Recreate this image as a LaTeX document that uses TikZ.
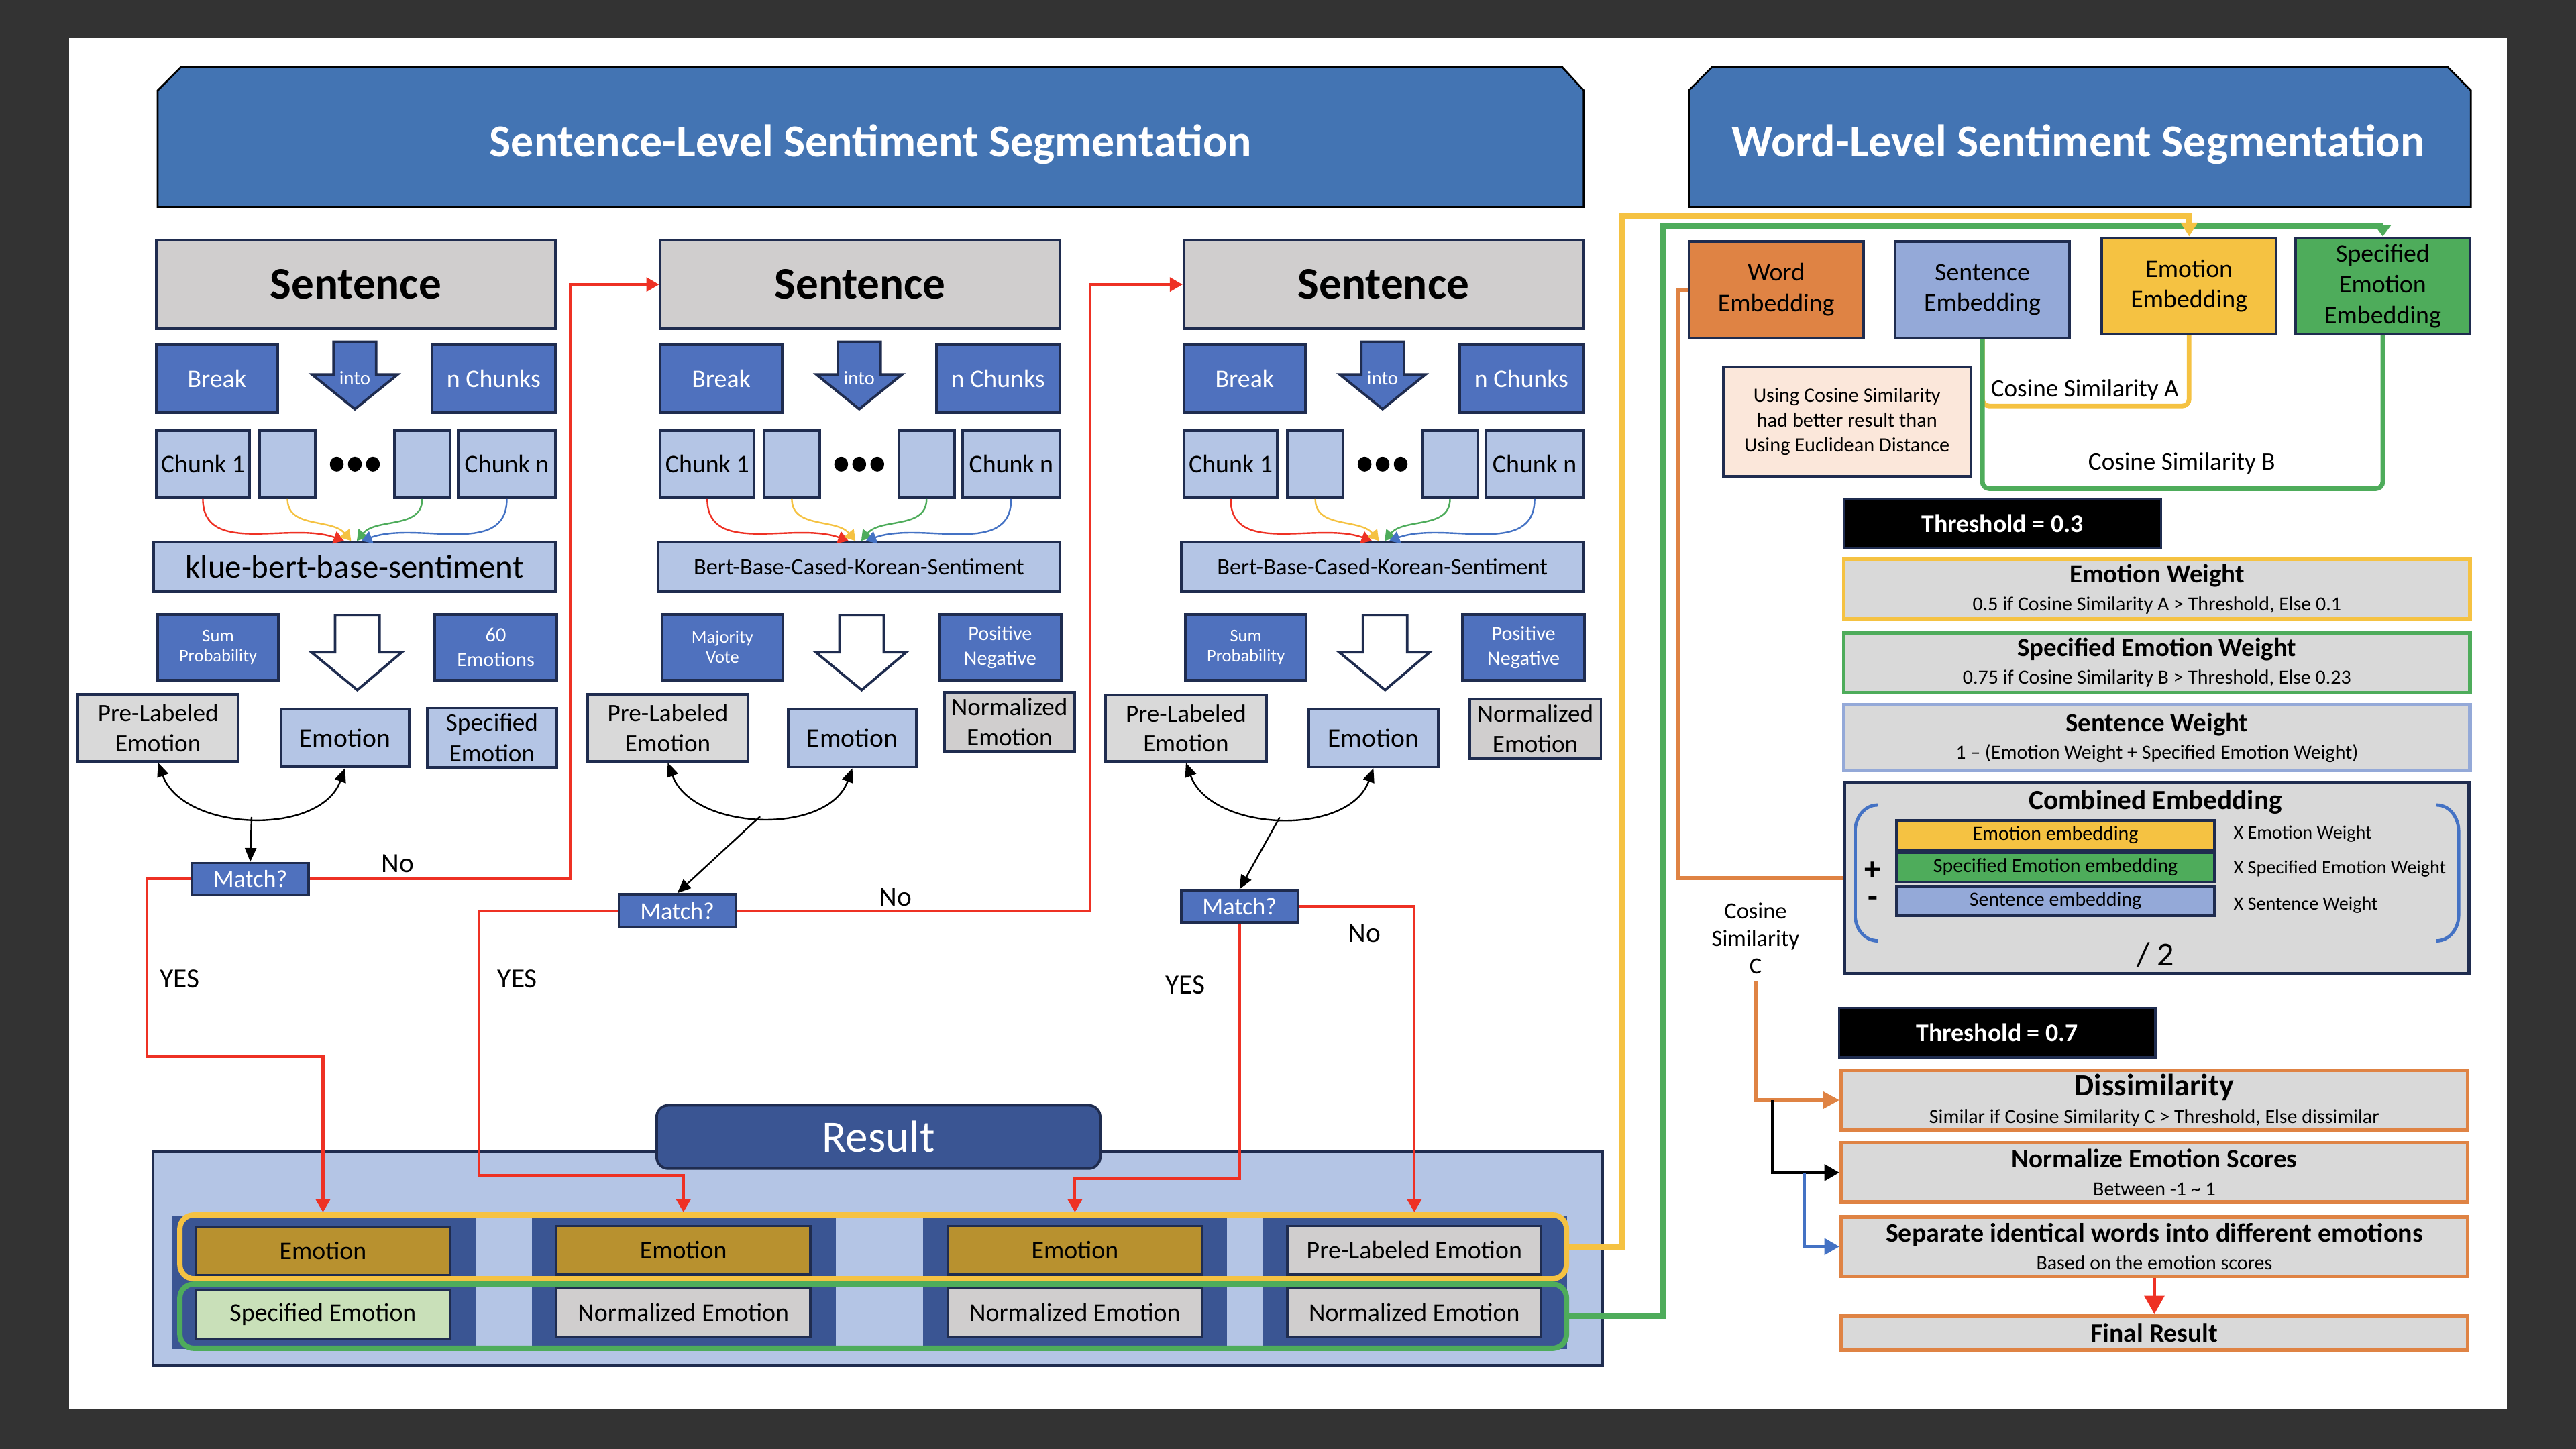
\documentclass[tikz,border=0pt]{standalone}
\usepackage{fontspec}
\setmainfont{Carlito}
\usetikzlibrary{arrows.meta}

%Cores
\definecolor{fundo}{HTML}{333333}
\definecolor{azulbanner}{HTML}{4374B3}
\definecolor{azulmedio}{HTML}{4F71BE}
\definecolor{azulclaro}{HTML}{B4C5E5}
\definecolor{cinza}{HTML}{D0CECE}
\definecolor{cinzaclaro}{HTML}{D9D9D9}
\definecolor{marinho}{HTML}{1F2C4F}
\definecolor{azulescuro}{HTML}{3A5593}
\definecolor{ouro}{HTML}{B8912F}
\definecolor{verdeclaro}{HTML}{C9E0B9}
\definecolor{laranja}{HTML}{DF8344}
\definecolor{lavanda}{HTML}{94A9D8}
\definecolor{amarelo}{HTML}{F5C242}
\definecolor{verde}{HTML}{4EAC5B}
\definecolor{pessego}{HTML}{FBE7DA}
\definecolor{vermelho}{HTML}{EE3124}
\definecolor{azullinha}{HTML}{4472C4}

\newcommand{\tamfonte}[2]{\fontsize{#1}{#2}\selectfont}

\tikzset{
  tam/.style 2 args={minimum width=#1*0.025cm, minimum height=#2*0.025cm},
  caixa/.style={draw=marinho, line width=1.1pt, inner sep=0pt, align=center},
  frase/.style={caixa, fill=cinza, font=\tamfonte{19.5}{22}\bfseries},
  azul/.style={caixa, fill=azulmedio, text=white, font=\tamfonte{11}{13}},
  clara/.style={caixa, fill=azulclaro, font=\tamfonte{11}{13}},
  cinzab/.style={caixa, fill=cinzaclaro, font=\tamfonte{10.8}{13}},
  pergunta/.style={caixa, fill=azulmedio, text=white, font=\tamfonte{10.5}{12}},
  rotulo/.style={font=\tamfonte{12}{14}},
  resbox/.style={caixa, font=\tamfonte{11}{13}, tam={154.5}{29.5}},
  peso/.style={caixa, fill=cinzaclaro, line width=1.5pt, font=\tamfonte{8.7}{12}, tam={381.1}{36.5}},
  limiar/.style={caixa, fill=black, text=white, font=\tamfonte{11}{13}\bfseries, tam={193}{30}},
  etapa/.style={caixa, draw=laranja, fill=cinzaclaro, line width=1.5pt, font=\tamfonte{8.7}{12}, tam={381.3}{36}},
  emb/.style={caixa, font=\tamfonte{11}{13.2}, tam={106.4}{58.7}},
  vermelha/.style={vermelho, line width=1.2pt, -{Triangle[length=5.5pt,width=6pt]}},
  preta/.style={black, line width=0.7pt},
  ponta/.style={-{Triangle[length=4.5pt,width=5.5pt]}, line width=0.7pt}
}

\begin{document}
\begin{tikzpicture}[x=0.025cm, y=-0.025cm] %Unidade = 1 pixel da imagem
	%Fundo
	\fill[fundo] (0,0) rectangle (1568,882);
	\fill[white] (42,23) rectangle (1526,858);
	%Faixas de titulo
	\filldraw[fill=azulbanner, draw=black, line width=0.8pt] (96,126) -- (96,55) -- (110,41) -- (951,41) -- (964,55) -- (964,126) -- cycle;
	\node[text=white, font=\tamfonte{19.7}{22}\bfseries] (tituloS) at (530,88) {Sentence-Level Sentiment Segmentation};
	\filldraw[fill=azulbanner, draw=black, line width=0.8pt] (1028,126) -- (1028,55) -- (1042,41) -- (1490,41) -- (1504,55) -- (1504,126) -- cycle;
	\node[text=white, font=\tamfonte{19.7}{22}\bfseries] (tituloW) at (1265,88) {Word-Level Sentiment Segmentation};

	%Tres colunas de frases
	\foreach \i/\dx/\modelo/\fm/\esq/\dir in {1/0/klue-bert-base-sentiment/14.2/{Sum\\Probability}/{60\\Emotions},
		2/307/Bert-Base-Cased-Korean-Sentiment/10/{Majority\\Vote}/{Positive\\Negative},
		3/625.6/Bert-Base-Cased-Korean-Sentiment/10/{Sum\\Probability}/{Positive\\Negative}}{
		\begin{scope}[shift={(\dx,0)}]
			\node[frase, tam={243}{54}] (sent\i) at (216.5,173.2) {Sentence}; %Frase
			\node[azul, tam={74}{41}] (brk\i) at (132,230.5) {Break};
			\filldraw[fill=azulmedio, draw=marinho, line width=1.1pt] (203,208) -- (229,208) -- (229,228) -- (242,228) -- (216,249) -- (190,228) -- (203,228) -- cycle; %Seta into
			\node[text=white, font=\tamfonte{8.4}{10}] (into\i) at (216,230) {into};
			\node[azul, tam={75}{41}] (nch\i) at (300.5,230.5) {n Chunks};
			%Pedacos
			\node[clara, tam={57}{41}] (cha\i) at (123.5,282.5) {Chunk 1};
			\node[clara, tam={34}{41}] (chb\i) at (175,282.5) {};
			\node[clara, tam={34}{41}] (chc\i) at (257,282.5) {};
			\node[clara, tam={59}{41}] (chd\i) at (308.5,282.5) {Chunk n};
			\foreach \p in {-11,0,11}
				\fill[black] ({216+\p},282.5) ellipse[x radius=4.2, y radius=4.5];
			\node[clara, tam={244.4}{30}, font=\tamfonte{\fm}{\fm}] (mod\i) at (215.8,345) {\modelo};
			%Curvas coloridas
			\draw[ponta, vermelho] (cha\i.south) to[out=-90,in=160] ([xshift=-4.5pt]mod\i.north);
			\draw[ponta, amarelo] (chb\i.south) to[out=-90,in=130] ([xshift=-1.5pt]mod\i.north);
			\draw[ponta, verde] (chc\i.south) to[out=-90,in=50] ([xshift=1pt]mod\i.north);
			\draw[ponta, azullinha] (chd\i.south) to[out=-90,in=20] ([xshift=3pt]mod\i.north);
			\node[azul, tam={73.5}{40}, font=\tamfonte{7.7}{8.7}] (esq\i) at (132.75,394) {\esq};
			\filldraw[fill=white, draw=marinho, line width=1.1pt] (204,374.5) -- (231,374.5) -- (231,397) -- (244.6,397) -- (217.5,420) -- (189.6,397) -- (204,397) -- cycle; %Seta branca
			\node[azul, tam={74.4}{40}, font=\tamfonte{8.8}{10.7}] (dir\i) at (301.8,394) {\dir};
		\end{scope}
	}

	%Resultados de cada coluna
	\node[cinzab, tam={97.5}{41}] (pl1) at (96.25,443) {Pre-Labeled\\Emotion};
	\node[clara, tam={78}{35.3}, font=\tamfonte{11.5}{13}] (e1) at (210,449.2) {Emotion};
	\node[clara, tam={79}{36}, font=\tamfonte{10.8}{13.3}] (sp1) at (299.5,449) {Specified\\Emotion};
	\node[cinzab, tam={97.6}{41}] (pl2) at (406.5,443) {Pre-Labeled\\Emotion};
	\node[clara, tam={78}{35.3}, font=\tamfonte{11.5}{13}] (e2) at (518.8,449.3) {Emotion};
	\node[cinzab, fill=cinza, tam={79}{35.8}] (ne2) at (614.5,439.4) {Normalized\\Emotion};
	\node[cinzab, tam={98.2}{40.6}] (pl3) at (721.9,443.3) {Pre-Labeled\\Emotion};
	\node[clara, tam={78.6}{35.4}, font=\tamfonte{11.5}{13}] (e3) at (836,449.2) {Emotion};
	\node[cinzab, fill=cinza, tam={80}{36.1}] (ne3) at (934.5,443.65) {Normalized\\Emotion};

	%Comparacao
	\draw[preta, {Triangle[length=6pt,width=5pt]}-{Triangle[length=6pt,width=5pt]}] (pl1.south) to[out=-70,in=-110] coordinate[pos=0.5] (c1) (e1.south);
	\draw[preta, {Triangle[length=6pt,width=5pt]}-{Triangle[length=6pt,width=5pt]}] (pl2.south) to[out=-70,in=-110] coordinate[pos=0.5] (c2) (e2.south);
	\draw[preta, {Triangle[length=6pt,width=5pt]}-{Triangle[length=6pt,width=5pt]}] (pl3.south) to[out=-70,in=-110] coordinate[pos=0.5] (c3) (e3.south);
	\node[pergunta, tam={71.1}{19.3}] (m1) at (152.35,535) {Match?};
	\node[pergunta, tam={71.1}{19.9}] (m2) at (412.25,554.35) {Match?};
	\node[pergunta, tam={71}{19.5}] (m3) at (754.5,551.75) {Match?};
	\draw[preta, -{Triangle[length=6pt,width=5pt]}] (c1) -- (m1.north);
	\draw[preta, -{Triangle[length=6pt,width=5pt]}] (c2) -- (m2.north);
	\draw[preta, -{Triangle[length=6pt,width=5pt]}] (c3) -- (m3.north);

	%Caixa de resultado
	\node[caixa, fill=azulclaro, tam={882.1}{130.4}] (res) at (534.35,766.2) {};
	\node[caixa, fill=azulescuro, rounded corners=5pt, tam={270}{38.5}, text=white, font=\tamfonte{19.5}{22}] (resultado) at (534.7,692) {Result};
	\foreach \j/\cx in {1/197.1, 2/416.3, 3/654.4, 4/861.5}
		\node[fill=azulescuro, tam={185}{81.3}, inner sep=0pt] (pan\j) at (\cx,780.7) {};
	\node[resbox, fill=ouro] (re1) at (196.6,761.5) {Emotion};
	\node[resbox, fill=ouro] (re2) at (416,761) {Emotion};
	\node[resbox, fill=ouro] (re3) at (654.3,761) {Emotion};
	\node[resbox, fill=cinza] (re4) at (860.9,761) {Pre-Labeled Emotion};
	\node[resbox, fill=verdeclaro, tam={154.5}{30}] (rb1) at (196.6,800) {Specified Emotion};
	\node[resbox, fill=cinza, tam={154.5}{30}] (rb2) at (416,799) {Normalized Emotion};
	\node[resbox, fill=cinza, tam={154.5}{30}] (rb3) at (654.3,799) {Normalized Emotion};
	\node[resbox, fill=cinza, tam={154.5}{30}] (rb4) at (860.9,799) {Normalized Emotion};
	\node[draw=amarelo, line width=2.3pt, rounded corners=6pt, inner sep=0pt, tam={844}{38.8}] (quadroamarelo) at (531.5,758.9) {};
	\node[draw=verde, line width=2.3pt, rounded corners=6pt, inner sep=0pt, tam={844}{39.1}] (quadroverde) at (531.5,801.15) {};

	%Setas vermelhas (Match?)
	\draw[vermelha] (m1.east) -| (347,173.2) -- (sent2.west); %No
	\draw[vermelha] (m1.west) -| (89.3,643) -| (re1 |- quadroamarelo.north); %YES
	\draw[vermelha] (m2.east) -| (663.6,173.2) -- (sent3.west); %No
	\draw[vermelha] (m2.west) -| (291.4,715.3) -| (re2 |- quadroamarelo.north); %YES
	\draw[vermelha] (m3.south) -- ++(0,155.2) -| (re3 |- quadroamarelo.north); %YES
	\draw[vermelha] (m3.east) -| (re4 |- quadroamarelo.north); %No
	\node[rotulo] (no1) at (242,525.6) {No};
	\node[rotulo] (yes1) at (109.5,596) {YES};
	\node[rotulo] (no2) at (545,546) {No};
	\node[rotulo] (yes2) at (315,596) {YES};
	\node[rotulo] (no3) at (830.5,568) {No};
	\node[rotulo] (yes3) at (721.5,599.5) {YES};

	%Nivel de palavra
	\node[emb, fill=laranja] (emb1) at (1081.15,176.3) {Word\\Embedding};
	\node[emb, fill=lavanda] (emb2) at (1206.65,176.3) {Sentence\\Embedding};
	\node[emb, fill=amarelo] (emb3) at (1332.5,174.1) {Emotion\\Embedding};
	\node[emb, fill=verde, font=\tamfonte{11}{13.3}] (emb4) at (1450.4,174.1) {Specified\\Emotion\\Embedding};
	\node[caixa, fill=pessego, tam={150.5}{66.6}, font=\tamfonte{8.8}{10.8}] (nota) at (1124.25,256.6) {Using Cosine Similarity\\had better result than\\Using Euclidean Distance};
	\draw[amarelo, line width=2pt, rounded corners=3pt] (emb2.south) -- ++(0,40.7) -| (emb3.south);
	\draw[verde, line width=2pt, rounded corners=3pt] (emb2.south) -- ++(0,91) -| (emb4.south);
	\node[font=\tamfonte{10.8}{13}] (simA) at (1269,237.4) {Cosine Similarity A};
	\node[font=\tamfonte{10.8}{13}] (simB) at (1328,281.8) {Cosine Similarity B};

	%Ligacoes do resultado
	\draw[verde, line width=2.3pt, -{Triangle[length=5pt,width=7pt]}] (quadroverde.east) -| (1012.3,137.7) -| (emb4.north);
	\draw[amarelo, line width=2.3pt, -{Triangle[length=6pt,width=7pt]}] (quadroamarelo.east) -| (987.3,131.4) -| (emb3.north);

	%Pesos
	\node[limiar] (lim1) at (1218.9,318.8) {Threshold = 0.3};
	\node[peso, draw=amarelo] (pesoemo) at (1312.95,358.65) {{\bfseries\tamfonte{11.3}{12}Emotion Weight}\\0.5 if Cosine Similarity A > Threshold, Else 0.1};
	\node[peso, draw=verde] (pesoesp) at (1312.95,403.4) {{\bfseries\tamfonte{11.3}{12}Specified Emotion Weight}\\0.75 if Cosine Similarity B > Threshold, Else 0.23};
	\node[peso, draw=lavanda, tam={381.1}{40}] (pesosen) at (1312.95,449) {{\bfseries\tamfonte{11.3}{12}Sentence Weight}\\1 – (Emotion Weight + Specified Emotion Weight)};

	%Embedding combinado
	\node[caixa, fill=cinzaclaro, line width=1.3pt, tam={380.2}{116.5}] (comb) at (1312.8,534.35) {};
	\node[font=\tamfonte{12}{14}\bfseries] (combtit) at (1312,488) {Combined Embedding};
	\node[caixa, fill=amarelo, tam={193.7}{18}, font=\tamfonte{8.7}{10}] (vemo) at (1251.15,508.4) {Emotion embedding};
	\node[caixa, fill=verde, tam={193.7}{18}, font=\tamfonte{8.7}{10}] (vesp) at (1251.15,528) {Specified Emotion embedding};
	\node[caixa, fill=lavanda, tam={193.7}{18}, font=\tamfonte{8.7}{10}] (vsen) at (1251.15,548.3) {Sentence embedding};
	\node[anchor=west, inner sep=0pt, font=\tamfonte{8.2}{10}] (xemo) at (1359.3,507.8) {X Emotion Weight};
	\node[anchor=west, inner sep=0pt, font=\tamfonte{8.2}{10}] (xesp) at (1359.3,528.8) {X Specified Emotion Weight};
	\node[anchor=west, inner sep=0pt, font=\tamfonte{8.2}{10}] (xsen) at (1359.3,551) {X Sentence Weight};
	\node[inner sep=0pt, align=center, font=\tamfonte{14}{11.7}\bfseries] (sinais) at (1140,538.5) {+\\-};
	\node[font=\tamfonte{14.5}{16}] (div) at (1312,581) {/ 2};
	\draw[azullinha, line width=1.4pt] (1143,490) to[out=180,in=90] (1129.2,506) -- (1129.2,557) to[out=-90,in=180] (1143,572.7);
	\draw[azullinha, line width=1.4pt] (1483,490) to[out=0,in=90] (1496.6,506) -- (1496.6,557) to[out=-90,in=0] (1483,572.7);
	\draw[laranja, line width=1.8pt] (emb1.west) -- ++(-5.6,0) |- (comb.west);

	%Etapas finais
	\node[font=\tamfonte{10}{11.9}, align=center] (cosc) at (1068.6,571) {Cosine\\Similarity\\C};
	\node[limiar, tam={192.6}{30}] (lim2) at (1215.7,628.5) {Threshold = 0.7};
	\node[etapa] (dis) at (1311.35,669.65) {{\bfseries\tamfonte{13.4}{12}Dissimilarity}\\Similar if Cosine Similarity C > Threshold, Else dissimilar};
	\node[etapa] (nor) at (1311.35,713.7) {{\bfseries\tamfonte{11.4}{12}Normalize Emotion Scores}\\Between -1 \textasciitilde{} 1};
	\node[etapa, tam={381.3}{36.2}] (sep) at (1311.35,758.8) {{\bfseries\tamfonte{11.6}{12}Separate identical words into different emotions}\\Based on the emotion scores};
	\node[etapa, tam={381.3}{20.6}, font=\tamfonte{11.5}{13}\bfseries] (fin) at (1311.35,811.3) {Final Result};
	\coordinate (bif1) at (1079,669.65);
	\coordinate (bif2) at (1098.3,713.7);
	\draw[laranja, line width=1.8pt, -{Triangle[length=7pt,width=7pt]}] (cosc.south) |- (dis.west);
	\draw[black, line width=1.5pt, -{Triangle[length=6.5pt,width=7pt]}] (bif1) |- (nor.west);
	\draw[azullinha, line width=1.5pt, -{Triangle[length=6.5pt,width=7pt]}] (bif2) |- (sep.west);
	\draw[vermelho, line width=1.6pt, -{Triangle[length=8pt,width=8.5pt]}] (sep.south) -- (fin.north);
\end{tikzpicture}
\end{document}
